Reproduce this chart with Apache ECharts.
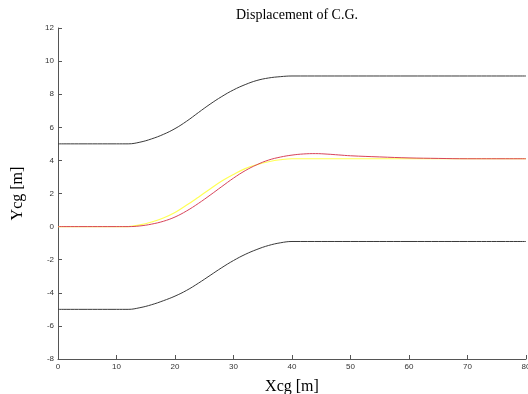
<!DOCTYPE html>
<html>
<head>
<meta charset="utf-8">
<script src="https://cdn.jsdelivr.net/npm/echarts@6/dist/echarts.min.js"></script>
<style>
html,body{margin:0;padding:0;background:#fff;}
#chart{width:528px;height:394px;}
</style>
</head>
<body>
<div id="chart"></div>
<script>
var titleText = "Displacement of C.G.";
var xName = "Xcg [m]";
var yName = "Ycg [m]";

var boundX = [0, 10, 12, 14, 16, 18, 20, 22, 24, 26, 28, 30, 32, 34, 36, 38, 40, 50, 60, 70, 80];
var upperY = [5, 5, 5.0, 5.1, 5.3, 5.57, 5.92, 6.37, 6.89, 7.4, 7.86, 8.26, 8.58, 8.83, 8.98, 9.06, 9.1, 9.1, 9.1, 9.1, 9.1];
var lowerY = [-5, -5, -5, -4.9, -4.72, -4.48, -4.2, -3.85, -3.42, -2.95, -2.48, -2.05, -1.68, -1.38, -1.14, -0.98, -0.9, -0.9, -0.9, -0.9, -0.9];

var refX = [0, 10, 12, 14, 16, 18, 20, 22, 24, 26, 28, 30, 32, 34, 36, 38, 40, 50, 60, 70, 80];
var refY = [0, 0, 0, 0.1, 0.28, 0.52, 0.85, 1.3, 1.78, 2.27, 2.75, 3.15, 3.5, 3.74, 3.92, 4.04, 4.1, 4.1, 4.1, 4.1, 4.1];

var actX = [0, 10, 12, 14, 16, 18, 20, 22, 24, 26, 28, 30, 32, 34, 36, 38, 40, 42, 44, 46, 48, 50, 55, 60, 65, 70, 80];
var actY = [0, 0, 0, 0.04, 0.15, 0.32, 0.58, 0.95, 1.4, 1.9, 2.42, 2.93, 3.38, 3.74, 4.02, 4.2, 4.32, 4.39, 4.41, 4.38, 4.33, 4.28, 4.21, 4.15, 4.12, 4.1, 4.1];

function pairs(xs, ys){ return xs.map(function(x,i){ return [x, ys[i]]; }); }

var chart = echarts.init(document.getElementById('chart'), null, {renderer:'canvas'});
var axisLabelStyle = {color:'#333', fontFamily:'Liberation Sans, Arial', fontSize:8};
var lineBase = {type:'line', smooth:0.4, showSymbol:false, symbol:'none'};
chart.setOption({
  animation:false,
  backgroundColor:'#fff',
  title:{text:titleText, left:292, top:3, textAlign:'center',
    textStyle:{fontFamily:'Liberation Serif, Times New Roman', fontWeight:'normal', fontSize:14, color:'#000'}},
  grid:{left:58, right:2, top:28, bottom:35, containLabel:false, outerBoundsMode:'none'},
  xAxis:{type:'value', min:0, max:80, interval:10,
    name:xName, nameLocation:'middle', nameGap:20,
    nameTextStyle:{fontFamily:'Liberation Serif, Times New Roman', fontSize:16, color:'#000'},
    axisLine:{onZero:false, lineStyle:{color:'#555', width:1}},
    axisTick:{inside:true, length:4, lineStyle:{color:'#555'}},
    axisLabel:Object.assign({margin:4}, axisLabelStyle),
    splitLine:{show:false}},
  yAxis:{type:'value', min:-8, max:12, interval:2,
    name:yName, nameLocation:'middle', nameGap:32, nameRotate:90,
    nameTextStyle:{fontFamily:'Liberation Serif, Times New Roman', fontSize:16, color:'#000'},
    axisLine:{show:true, onZero:false, lineStyle:{color:'#555', width:1}},
    axisTick:{show:true, inside:true, length:4, lineStyle:{color:'#555'}},
    axisLabel:Object.assign({margin:4}, axisLabelStyle),
    splitLine:{show:false}},
  series:[
    Object.assign({data:pairs(boundX, upperY), lineStyle:{color:'#3a3a3a', width:1}}, lineBase),
    Object.assign({data:pairs(boundX, lowerY), lineStyle:{color:'#3a3a3a', width:1}}, lineBase),
    Object.assign({data:pairs(refX, refY), lineStyle:{color:'#ffff55', width:1.2}}, lineBase),
    Object.assign({data:pairs(actX, actY), lineStyle:{color:'#d8445a', width:1}}, lineBase)
  ]
});
</script>
</body>
</html>
